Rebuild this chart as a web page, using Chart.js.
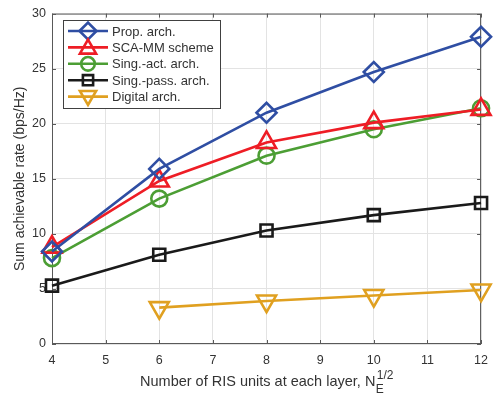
<!DOCTYPE html>
<html>
<head>
<meta charset="utf-8">
<script src="https://cdn.jsdelivr.net/npm/chart.js@4.4.1/dist/chart.umd.min.js"></script>
<style>
  html, body { margin: 0; padding: 0; background: #fff; }
  #wrap { width: 497px; height: 396px; }
</style>
</head>
<body>
<div id="wrap"><canvas id="rate-chart" width="497" height="396"></canvas></div>
<script>
// x values: number of RIS units at each layer (sqrt N_E)
const unitsX = [4, 6, 8, 10, 12];
const digitalX = [6, 8, 10, 12];

// sum achievable rate (bps/Hz)
const propArch = [8.4, 15.9, 21.0, 24.7, 27.9];
const scaMM = [8.8, 14.8, 18.3, 20.1, 21.3];
const singAct = [7.8, 13.2, 17.1, 19.5, 21.4];
const singPass = [5.3, 8.1, 10.3, 11.7, 12.8];
const digitalArch = [3.3, 3.9, 4.4, 4.9];

const xTicks = [4, 5, 6, 7, 8, 9, 10, 11, 12];
const yTicks = [0, 5, 10, 15, 20, 25, 30];

const FONT = "'Liberation Sans', Arial, Helvetica, sans-serif";
const TEXT = "#333333";
const AXIS = "#595959";

function toPoints(xs, ys){
    return xs.map((x, i) => ({ x: x, y: ys[i] }));
}

function series(label, xs, ys, color, style, radius, rotation){
    return {
        label: label,
        data: toPoints(xs, ys),
        borderColor: color,
        backgroundColor: color,
        borderWidth: 2.6,
        pointStyle: style,
        pointRadius: radius,
        pointRotation: rotation || 0,
        pointBorderWidth: 2.6,
        pointBorderColor: color,
        pointBackgroundColor: "rgba(0,0,0,0)",
        clip: false,
        tension: 0
    };
}

const datasets = [
    series("Prop. arch.", unitsX, propArch, "#2f4ea3", "rectRot", 10),
    series("SCA-MM scheme", unitsX, scaMM, "#ee1d25", "triangle", 11),
    series("Sing.-act. arch.", unitsX, singAct, "#4c9e34", "circle", 8),
    series("Sing.-pass. arch.", unitsX, singPass, "#1a1a1a", "rect", 8.5),
    series("Digital arch.", digitalX, digitalArch, "#e0a020", "triangle", 11, 180)
];

// box, inward ticks, legend and x title with sub/superscript
const matlabLook = {
    id: "matlabLook",
    beforeDatasetsDraw(chart){
        const ctx = chart.ctx;
        const a = chart.chartArea;
        const xs = chart.scales.x;
        const ys = chart.scales.y;
        ctx.save();

        // frame
        ctx.strokeStyle = AXIS;
        ctx.lineWidth = 1;
        ctx.strokeRect(a.left + 0.5, a.top + 0.5, a.right - a.left - 1, a.bottom - a.top - 1);

        // inward ticks
        ctx.beginPath();
        xTicks.forEach(v => {
            const px = Math.round(xs.getPixelForValue(v)) + 0.5;
            ctx.moveTo(px, a.bottom); ctx.lineTo(px, a.bottom - 4);
            ctx.moveTo(px, a.top); ctx.lineTo(px, a.top + 4);
        });
        yTicks.forEach(v => {
            const py = Math.round(ys.getPixelForValue(v)) + 0.5;
            ctx.moveTo(a.left, py); ctx.lineTo(a.left + 4, py);
            ctx.moveTo(a.right, py); ctx.lineTo(a.right - 4, py);
        });
        ctx.stroke();
        ctx.restore();
    },
    afterDraw(chart){
        const ctx = chart.ctx;
        const a = chart.chartArea;
        ctx.save();

        // legend
        const lx = 63, ly = 20, lw = 157, lh = 88;
        ctx.fillStyle = "#ffffff";
        ctx.fillRect(lx, ly, lw, lh);
        ctx.strokeStyle = "#404040";
        ctx.lineWidth = 1;
        ctx.strokeRect(lx + 0.5, ly + 0.5, lw, lh);
        ctx.font = "13px " + FONT;
        ctx.textBaseline = "middle";
        ctx.textAlign = "left";
        chart.data.datasets.forEach((ds, i) => {
            const cy = ly + 11 + i * 16.4;
            ctx.strokeStyle = ds.borderColor;
            ctx.lineWidth = 2.6;
            ctx.beginPath();
            ctx.moveTo(lx + 5, cy); ctx.lineTo(lx + 45, cy);
            ctx.stroke();
            ctx.fillStyle = "rgba(0,0,0,0)";
            Chart.helpers.drawPoint(ctx, {
                pointStyle: ds.pointStyle,
                rotation: ds.pointRotation,
                radius: ds.pointRadius * 0.85,
                borderWidth: 2.6
            }, lx + 25, cy + (ds.pointStyle === "triangle" ? (ds.pointRotation ? -1 : 1.5) : 0));
            ctx.fillStyle = TEXT;
            ctx.fillText(ds.label, lx + 49, cy + 1);
        });

        // x axis title
        const main = "Number of RIS units at each layer, N";
        ctx.font = "14.5px " + FONT;
        const w1 = ctx.measureText(main).width;
        ctx.font = "12px " + FONT;
        const wSup = ctx.measureText("1/2").width;
        const total = w1 + wSup + 1;
        const cx = (a.left + a.right) / 2;
        const x0 = cx - total / 2;
        const base = 386;
        ctx.fillStyle = TEXT;
        ctx.textBaseline = "alphabetic";
        ctx.font = "14.5px " + FONT;
        ctx.fillText(main, x0, base);
        ctx.font = "12px " + FONT;
        ctx.fillText("E", x0 + w1 + 0.5, base + 7);
        ctx.fillText("1/2", x0 + w1 + 1.5, base - 7);

        ctx.restore();
    }
};

new Chart(
    document.getElementById("rate-chart"),
    {
        type: "line",
        data: { datasets: datasets },
        options: {
            responsive: false,
            animation: false,
            layout: { padding: { top: 10, right: 14, left: 0, bottom: 0 } },
            plugins: {
                legend: { display: false },
                tooltip: { enabled: false }
            },
            scales: {
                x: {
                    type: "linear",
                    min: 4,
                    max: 12,
                    afterFit(scale){ scale.height = 52; },
                    afterBuildTicks(scale){ scale.ticks = xTicks.map(v => ({ value: v })); },
                    grid: { color: "#e3e3e3", drawTicks: false },
                    border: { display: false },
                    ticks: {
                        color: TEXT,
                        padding: 9,
                        font: { family: FONT, size: 12.5 },
                        maxRotation: 0
                    }
                },
                y: {
                    min: 0,
                    max: 30,
                    afterFit(scale){ scale.width = 52; },
                    afterBuildTicks(scale){ scale.ticks = yTicks.map(v => ({ value: v })); },
                    grid: { color: "#e3e3e3", drawTicks: false },
                    border: { display: false },
                    ticks: {
                        color: TEXT,
                        padding: 6,
                        font: { family: FONT, size: 12.5 }
                    },
                    title: {
                        display: true,
                        text: "Sum achievable rate (bps/Hz)",
                        color: TEXT,
                        font: { family: FONT, size: 14 },
                        padding: { top: 12, bottom: 0 }
                    }
                }
            }
        },
        plugins: [matlabLook]
    }
);
</script>
</body>
</html>
